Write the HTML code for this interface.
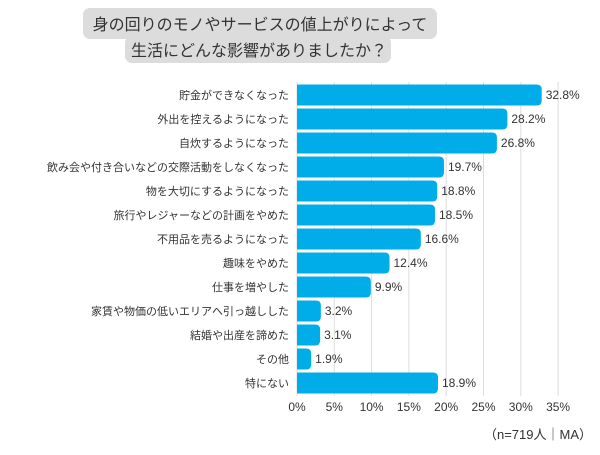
<!DOCTYPE html>
<html><head><meta charset="utf-8"><style>
body{margin:0;width:600px;height:450px;background:#fff;font-family:"Liberation Sans","Noto Sans CJK JP",sans-serif;overflow:hidden}
</style></head><body>
<svg width="600" height="450" font-family="Liberation Sans, Noto Sans CJK JP, sans-serif">
<g>
<rect x="83" y="8" width="354" height="31" rx="7" fill="#dcdcdc"/>
<rect x="125" y="36" width="266" height="27" rx="7" fill="#dcdcdc"/>
<text x="260" y="30" text-anchor="middle" font-size="16" fill="#333">身の回りのモノやサービスの値上がりによって</text>
<text x="259" y="56" text-anchor="middle" font-size="16" fill="#333">生活にどんな影響がありましたか？</text>
</g>
<g id="grid"></g><g id="bars"></g><g id="labels"></g><g id="ticks"></g>
<text x="592" y="439" text-anchor="end" font-size="13" fill="#333">（n=719人｜MA）</text>
</svg>
<script>
const categories=["貯金ができなくなった","外出を控えるようになった","自炊するようになった","飲み会や付き合いなどの交際活動をしなくなった","物を大切にするようになった","旅行やレジャーなどの計画をやめた","不用品を売るようになった","趣味をやめた","仕事を増やした","家賃や物価の低いエリアへ引っ越しした","結婚や出産を諦めた","その他","特にない"];
const values=[32.8,28.2,26.8,19.7,18.8,18.5,16.6,12.4,9.9,3.2,3.1,1.9,18.9];
const tickValues=[0,5,10,15,20,25,30,35];
const NS="http://www.w3.org/2000/svg";
const x0=297,pxPer=7.46,y0=95,step=24,bh=21;
const xs=v=>x0+v*pxPer, ys=i=>y0+i*step;
function mk(t,a,p){const e=document.createElementNS(NS,t);for(const k in a)e.setAttribute(k,a[k]);p.appendChild(e);return e;}
const G=document.getElementById('grid'),B=document.getElementById('bars'),L=document.getElementById('labels'),T=document.getElementById('ticks');
tickValues.forEach(v=>{
 const l=mk('line',{x1:xs(v),x2:xs(v),y1:82,y2:396,stroke:'#ddd','stroke-width':1},G);
 
 
 const t=mk('text',{x:xs(v),y:411,'text-anchor':'middle','font-size':12,fill:'#333'},T);
 t.textContent=v+'%';
 
 
});
categories.forEach((c,i)=>{
 const y=ys(i),w=xs(values[i])-x0,r=Math.min(5,w/2);
 const p=mk('path',{d:`M${x0},${y-bh/2}H${x0+w-r}Q${x0+w},${y-bh/2} ${x0+w},${y-bh/2+r}V${y+bh/2-r}Q${x0+w},${y+bh/2} ${x0+w-r},${y+bh/2}H${x0}Z`,fill:'#00ade8'},B);
 
 
 const t=mk('text',{x:289,y:y+4,'text-anchor':'end','font-size':11,fill:'#333'},L);
 t.textContent=c;
 
 
 const v=mk('text',{x:x0+w+4,y:y+4,'font-size':12,fill:'#333'},L);
 v.textContent=values[i].toFixed(1)+'%';
 
 
});
</script>
</body></html>
